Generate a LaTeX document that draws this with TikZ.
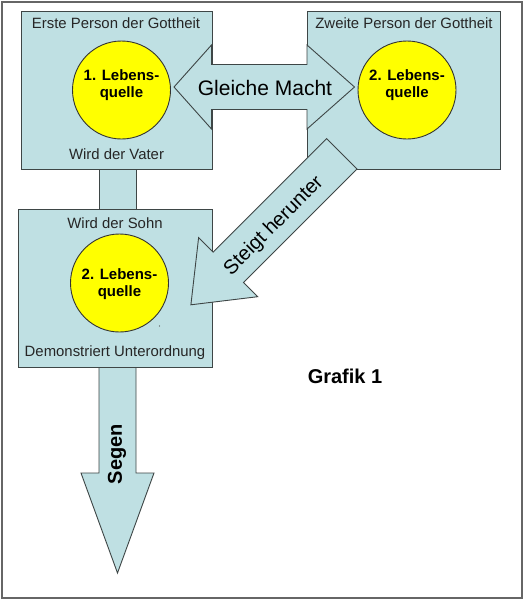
\documentclass[tikz,border=0pt]{standalone}
\usepackage{fontspec}
\setmainfont{Liberation Sans}
\definecolor{boxfill}{RGB}{191,224,227}
\definecolor{edge}{RGB}{62,70,70}
\definecolor{sun}{RGB}{255,255,0}
\begin{document}
\begin{tikzpicture}[x=1pt,y=-1pt,
  panel/.style={draw=edge,fill=boxfill,line width=0.9pt,inner sep=0pt},
  source/.style={circle,draw=black!80,fill=sun,line width=0.9pt,minimum size=98pt,inner sep=0pt},
  blockarrow/.style={draw=edge,fill=boxfill,line width=0.9pt,line join=miter},
  lbl/.style={font=\fontsize{14.9}{17}\selectfont,text=black!85,inner sep=0pt},
  srctxt/.style={font=\bfseries\fontsize{15}{16.5}\selectfont,align=center,inner sep=0pt},
  big/.style={font=\fontsize{21}{24}\selectfont,inner sep=0pt},
  bigb/.style={font=\bfseries\fontsize{20}{24}\selectfont,inner sep=0pt}]
\useasboundingbox (0,0) rectangle (523,600);
\fill[white] (0,0) rectangle (523,600);
\draw[line width=2pt,draw=black!60] (2,2) rectangle (521.5,598);

% connector between box 1 and box 3
\draw[blockarrow] (99,150) rectangle (136,230);
% Segen arrow
\coordinate (sgTip) at (117.5,573);
\draw[blockarrow] (99,330) -- (99,473) -- (81,473) -- (sgTip) -- (154,473) -- (136,473) -- (136,330) -- cycle;

% boxes
\node[panel,minimum width=191pt,minimum height=158pt] (p1) at (116.5,90) {};
\node[panel,minimum width=193pt,minimum height=158pt] (p2) at (403.5,90) {};
\node[panel,minimum width=194pt,minimum height=158pt] (p3) at (115,288) {};

% circles
\node[source] (c1) at (121.5,90) {};
\node[source] (c2) at (407,90) {};
\node[source] (c3) at (119.5,283) {};

% double arrow
\coordinate (gmL) at (174,87);
\coordinate (gmR) at (354.5,87);
\draw[blockarrow] (gmL) -- (211.5,45) -- (211.5,64.5) -- (307,64.5) -- (307,45) -- (gmR)
  -- (307,129) -- (307,109.5) -- (211.5,109.5) -- (211.5,129) -- cycle;

% diagonal arrow
\coordinate (stTip) at (190.9,304.8);
\draw[blockarrow] (326.7,138.6) -- (213.1,252.2) -- (198.6,237.7) -- (stTip)
  -- (257.7,296.7) -- (243.5,282.6) -- (357.1,169.0) -- cycle;

% texts
\node[lbl] (t1) at (116,23) {Erste Person der Gottheit};
\node[lbl] (t2) at (404,23) {Zweite Person der Gottheit};
\node[lbl] (t3) at (116.5,154) {Wird der Vater};
\node[lbl] (t4) at (115,223) {Wird der Sohn};
\node[lbl] (t5) at (115,353) {Demonstriert Unterordnung};

\node[srctxt] (s1) at (121.5,85) {1. Lebens-\\quelle};
\node[srctxt] (s2) at (407,85) {2. Lebens-\\quelle};
\node[srctxt] (s3) at (119.5,284) {2. Lebens-\\quelle};

\node[big] (gm) at (265,88) {Gleiche Macht};
\node[big,font=\fontsize{20}{24}\selectfont,rotate=45] (st) at (274,226) {Steigt herunter};
\node[bigb,rotate=90] (sg) at (117,454) {Segen};
\node[bigb] (gr) at (345,376) {Grafik 1};

\fill[black!70] (159.5,326) circle (0.6pt);
\end{tikzpicture}
\end{document}
